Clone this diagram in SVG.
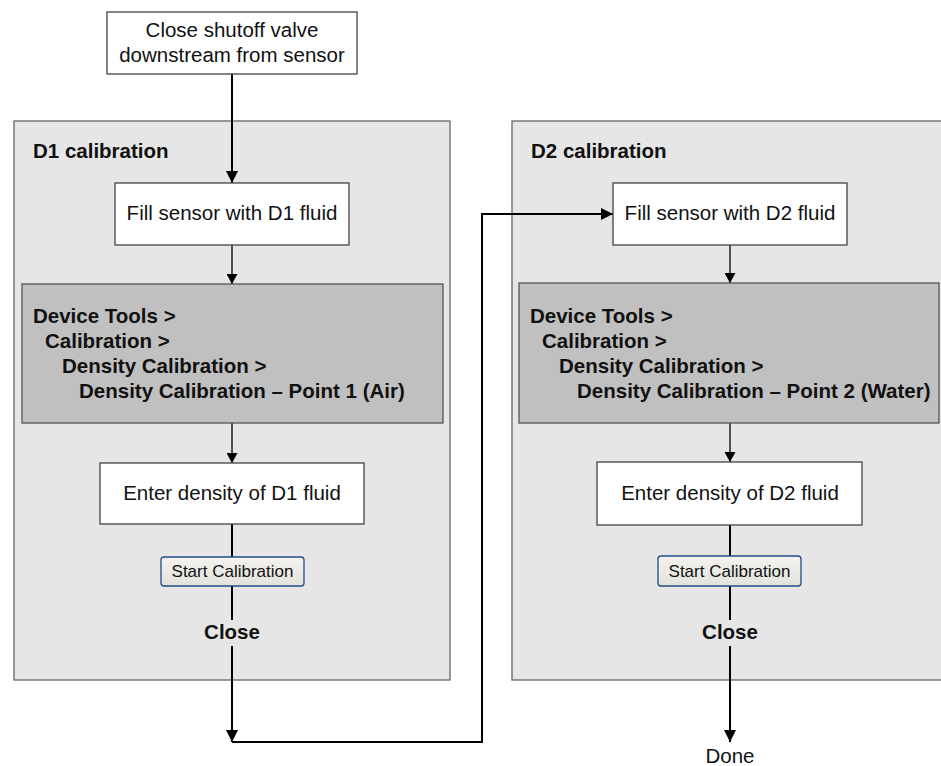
<svg xmlns="http://www.w3.org/2000/svg" width="941" height="766" viewBox="0 0 941 766">
<defs>
<style>
.panel{fill:#e6e6e6;stroke:#666;stroke-width:1.3}
.box{fill:#fff;stroke:#444;stroke-width:1.3}
.menu{fill:#c0c0c0;stroke:#555;stroke-width:1.3}
.btn{fill:url(#btng);stroke:#1f4f85;stroke-width:1.3}
.t{font-family:"Liberation Sans",Arial,sans-serif;font-size:20.5px;fill:#111}
.c{text-anchor:middle}
.b{font-weight:bold}
.bt{font-family:"Liberation Sans",Arial,sans-serif;font-size:17px;fill:#111;text-anchor:middle}
.thick{fill:none;stroke:#000;stroke-width:2}
.thin{fill:none;stroke:#000;stroke-width:1.3}
</style>
<linearGradient id="btng" x1="0" y1="0" x2="0" y2="1">
<stop offset="0" stop-color="#f4f3ef"/>
<stop offset="1" stop-color="#e2e1db"/>
</linearGradient>
<marker id="big" markerUnits="userSpaceOnUse" markerWidth="12" markerHeight="12" refX="12" refY="6" orient="auto">
<path d="M0,0 L12,6 L0,12 z" fill="#000"/>
</marker>
<marker id="small" markerUnits="userSpaceOnUse" markerWidth="10" markerHeight="11" refX="10" refY="5.5" orient="auto">
<path d="M0,0 L10,5.5 L0,11 z" fill="#000"/>
</marker>
</defs>
<rect width="941" height="766" fill="#fff"/>

<g id="panel-d1">
<rect class="panel" x="14" y="121" width="436" height="559"/>
<text class="t b" x="33" y="158">D1 calibration</text>
</g>
<g id="panel-d2">
<rect class="panel" x="512" y="121" width="440" height="559"/>
<text class="t b" x="531" y="158">D2 calibration</text>
</g>

<g id="connectors">
<path class="thick" d="M232,74 V183" marker-end="url(#big)"/>
<path class="thin" d="M232,245 V284" marker-end="url(#small)"/>
<path class="thin" d="M232,423 V463" marker-end="url(#small)"/>
<path class="thick" d="M232,524 V557"/>
<path class="thick" d="M232,586 V620"/>
<path class="thick" d="M232,646 V742" marker-end="url(#big)"/>
<path class="thick" d="M232,742 H482 V214 H613" marker-end="url(#big)"/>
<path class="thin" d="M730,245 V283" marker-end="url(#small)"/>
<path class="thin" d="M730,423 V462" marker-end="url(#small)"/>
<path class="thick" d="M730,525 V556"/>
<path class="thick" d="M730,586 V620"/>
<path class="thick" d="M730,646 V742" marker-end="url(#big)"/>
</g>

<g id="close-valve">
<rect class="box" x="107" y="12" width="250" height="62"/>
<text class="t c" x="232" y="37">Close shutoff valve</text>
<text class="t c" x="232" y="62">downstream from sensor</text>
</g>

<g id="fill-d1">
<rect class="box" x="115" y="183" width="234" height="62"/>
<text class="t c" x="232" y="220">Fill sensor with D1 fluid</text>
</g>

<g id="menu-d1">
<rect class="menu" x="22" y="284" width="421" height="139"/>
<text class="t b" x="33" y="323">Device Tools &gt;</text>
<text class="t b" x="45" y="348">Calibration &gt;</text>
<text class="t b" x="62" y="373">Density Calibration &gt;</text>
<text class="t b" x="79" y="398">Density Calibration – Point 1 (Air)</text>
</g>

<g id="enter-d1">
<rect class="box" x="100" y="463" width="264" height="61"/>
<text class="t c" x="232" y="500">Enter density of D1 fluid</text>
</g>

<g id="start-d1">
<rect class="btn" x="161" y="557" width="143" height="29" rx="3"/>
<text class="bt" x="232.5" y="577">Start Calibration</text>
</g>

<g id="close-d1">
<text class="t b c" x="232" y="639">Close</text>
</g>

<g id="fill-d2">
<rect class="box" x="613" y="183" width="234" height="62"/>
<text class="t c" x="730" y="220">Fill sensor with D2 fluid</text>
</g>

<g id="menu-d2">
<rect class="menu" x="519" y="283" width="420" height="140"/>
<text class="t b" x="530" y="323">Device Tools &gt;</text>
<text class="t b" x="542" y="348">Calibration &gt;</text>
<text class="t b" x="559" y="373">Density Calibration &gt;</text>
<text class="t b" x="577" y="398">Density Calibration – Point 2 (Water)</text>
</g>

<g id="enter-d2">
<rect class="box" x="597" y="462" width="265" height="63"/>
<text class="t c" x="730" y="500">Enter density of D2 fluid</text>
</g>

<g id="start-d2">
<rect class="btn" x="658" y="556" width="143" height="30" rx="3"/>
<text class="bt" x="729.5" y="577">Start Calibration</text>
</g>

<g id="close-d2">
<text class="t b c" x="730" y="639">Close</text>
</g>

<g id="done">
<text class="t c" x="730" y="763">Done</text>
</g>
</svg>
